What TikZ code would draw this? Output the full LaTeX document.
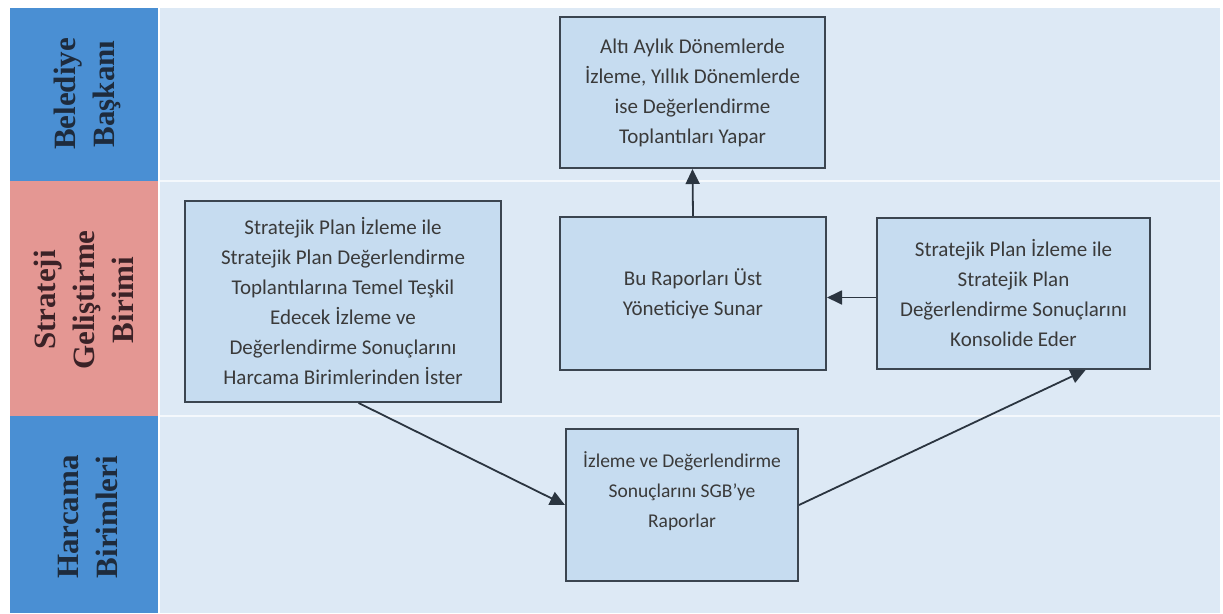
\documentclass[tikz,border=0pt]{standalone}
\usepackage{fontspec}
\setmainfont{Carlito}
\newfontfamily\lanefont{Liberation Serif}
\usetikzlibrary{arrows.meta,calc}
\definecolor{laneblue}{HTML}{4A8FD3}
\definecolor{lanepink}{HTML}{E49793}
\definecolor{bgblue}{HTML}{DDE9F5}
\definecolor{boxfill}{HTML}{C6DCF0}
\definecolor{boxline}{HTML}{3B4550}
\definecolor{txtgray}{HTML}{3A3A3A}
\definecolor{arrowc}{HTML}{2B3540}
\definecolor{lanetxt}{HTML}{1E2B3C}
\definecolor{lanetxtp}{HTML}{3B2227}
\tikzset{
  procbox/.style={draw=boxline, line width=2pt, fill=boxfill, align=center,
    text=txtgray, inner sep=0pt,
    font=\fontsize{21}{30}\selectfont},
  lanelabel/.style={rotate=90, align=center, text=lanetxt,
    font=\lanefont\bfseries\fontsize{31}{39}\selectfont},
  flow/.style={draw=arrowc, line width=1.8pt, -{Triangle[length=15pt,width=14pt]}}
}
\begin{document}
\begin{tikzpicture}[x=1pt,y=-1pt]
\useasboundingbox (0,0) rectangle (1223,613);
\fill[white] (0,0) rectangle (1223,613);
% right background
\fill[bgblue] (160,8) rectangle (1220,613);
\draw[white, line width=2pt, opacity=0.7] (160,181) -- (1220,181);
\draw[white, line width=2pt, opacity=0.7] (160,416) -- (1220,416);
% lanes
\fill[laneblue] (10,8) rectangle (158,181);
\fill[lanepink] (10,181) rectangle (158,416);
\fill[laneblue] (10,416) rectangle (158,613);
\node[lanelabel] (lane1) at (87,94) {Belediye\\Başkanı};
\node[lanelabel, text=lanetxtp] (lane2) at (84,300) {Strateji\\Geliştirme\\Birimi};
\node[lanelabel] (lane3) at (88,517) {Harcama\\Birimleri};
% boxes
\node[procbox, minimum width=265pt, minimum height=151pt] (top) at (692.5,92.5)
  {Altı Aylık Dönemlerde\\İzleme, Yıllık Dönemlerde\\ise Değerlendirme\\Toplantıları Yapar};
\node[procbox, minimum width=266pt, minimum height=153pt] (mid) at (693,293.5)
  {Bu Raporları Üst\\Yöneticiye Sunar};
\node[procbox, minimum width=316pt, minimum height=201pt] (left) at (343,301.5)
  {Stratejik Plan İzleme ile\\Stratejik Plan Değerlendirme\\Toplantılarına Temel Teşkil\\Edecek İzleme ve\\Değerlendirme Sonuçlarını\\Harcama Birimlerinden İster};
\node[procbox, minimum width=273pt, minimum height=151pt] (right) at (1013.5,293.5)
  {Stratejik Plan İzleme ile\\Stratejik Plan\\Değerlendirme Sonuçlarını\\Konsolide Eder};
\node[procbox, minimum width=232pt, minimum height=152pt, font=\fontsize{19.5}{30}\selectfont] (bottom) at (682,505)
  {İzleme ve Değerlendirme\\Sonuçlarını SGB’ye\\Raporlar\\~};
% connectors
\draw[flow] ($(left.south west)!0.549!(left.south east)$) -- (bottom.west);
\draw[flow] (bottom.east) -- ($(right.south west)!0.762!(right.south east)$);
\draw[flow] ([yshift=-4pt]right.west) -- ([yshift=-4pt]mid.east);
\draw[flow] (mid.north) -- (top.south);
\end{tikzpicture}
\end{document}
